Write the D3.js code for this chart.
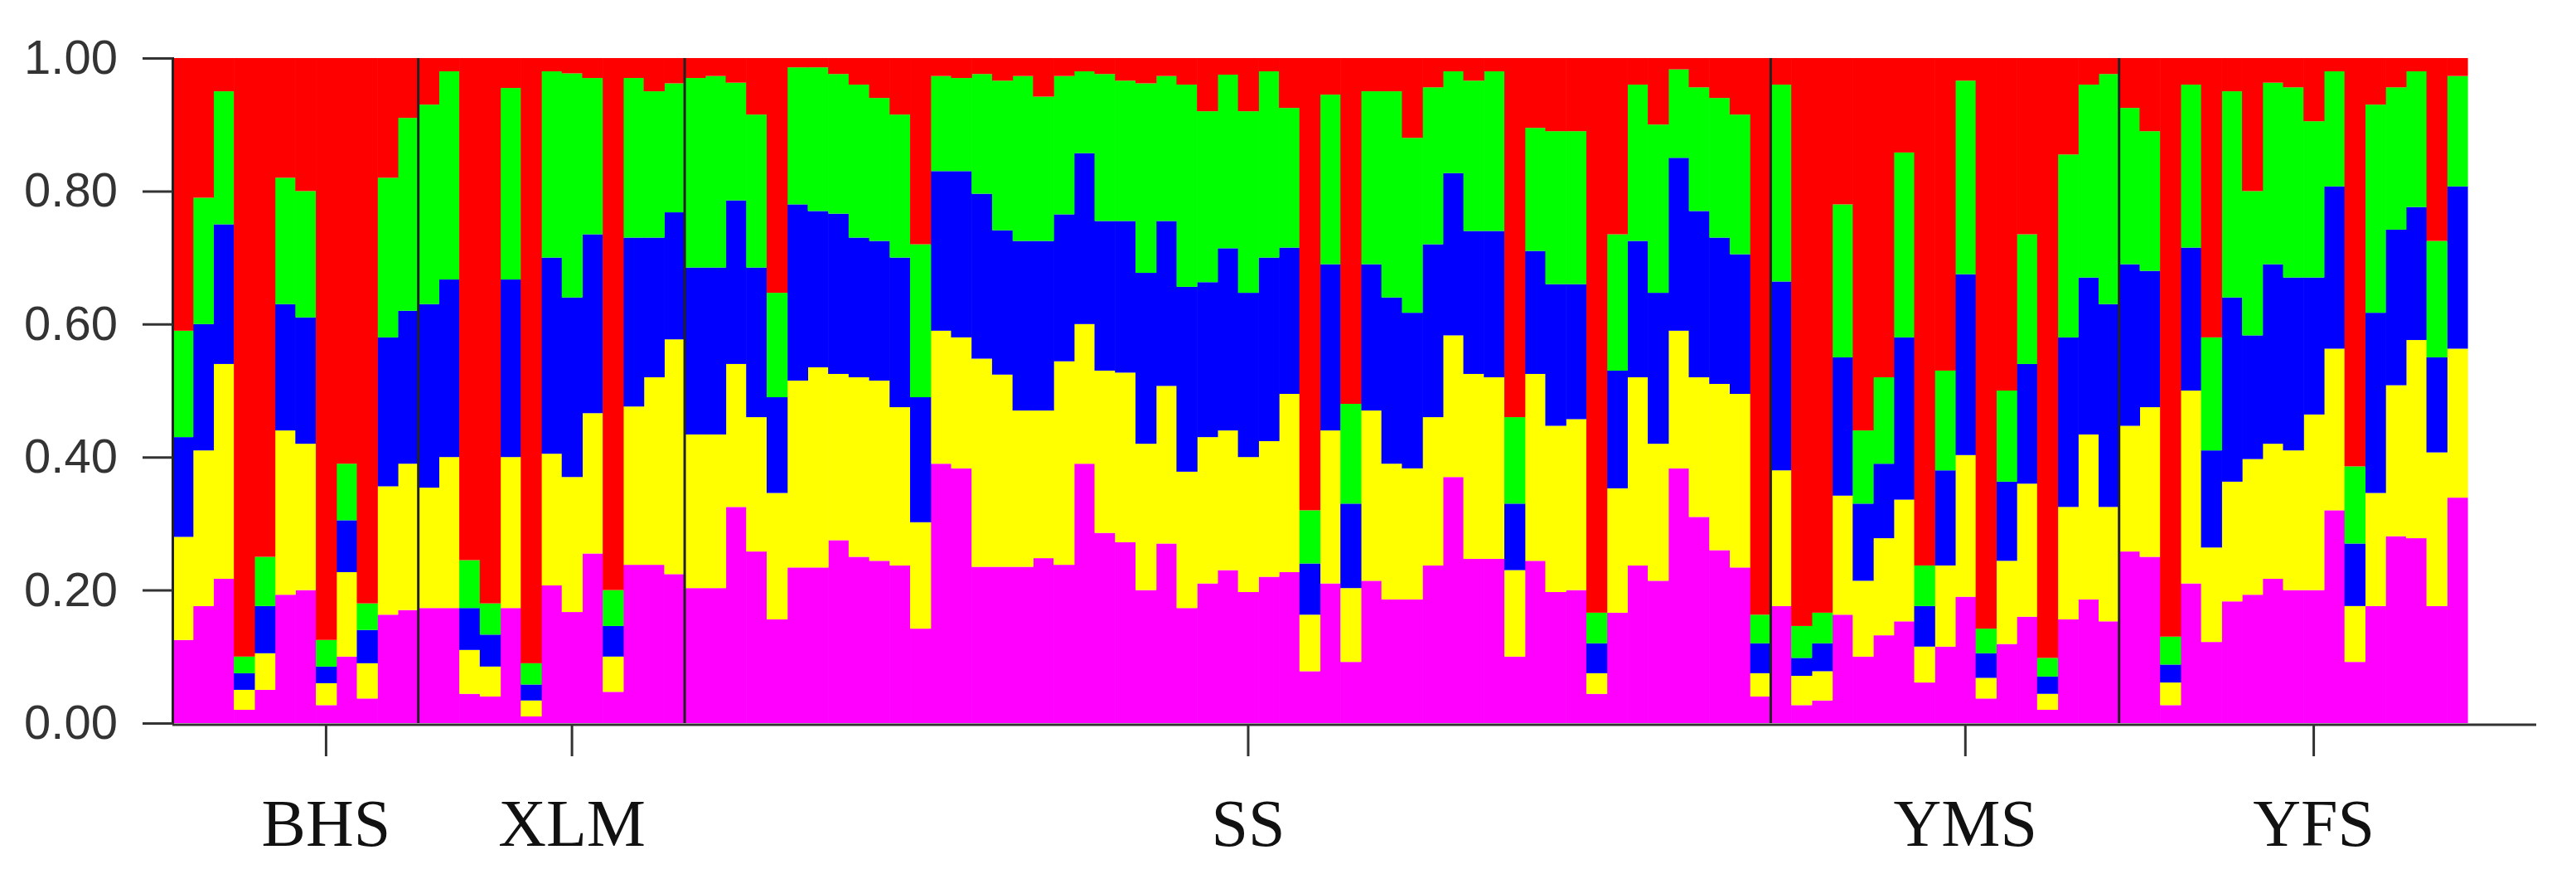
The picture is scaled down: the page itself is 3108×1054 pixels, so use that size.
<!DOCTYPE html>
<html><head><meta charset="utf-8">
<script src="https://cdn.jsdelivr.net/npm/d3@7"></script>
<style>body{margin:0;background:#fff}</style>
</head><body>
<svg id="c" width="3108" height="1054"></svg>
<script>
// cumulative upper edges per individual (stack order: magenta, yellow, blue, green, red)
const pinkTop=[.125,.176,.217,.02,.05,.193,.20,.027,.10,.037,.163,.17,.173,.173,.044,.04,.173,.01,.207,.167,.255,.047,.238,.238,.224,.203,.203,.325,.258,.156,.234,.234,.275,.25,.244,.237,.142,.39,.383,.235,.235,.235,.248,.238,.39,.286,.272,.20,.27,.173,.21,.23,.197,.22,.227,.078,.21,.092,.214,.186,.186,.237,.37,.247,.247,.10,.244,.197,.20,.044,.166,.237,.214,.383,.31,.26,.234,.04,.176,.027,.034,.163,.10,.132,.153,.061,.115,.19,.037,.119,.16,.02,.156,.186,.153,.258,.25,.027,.21,.122,.183,.193,.217,.20,.20,.32,.092,.176,.281,.278,.176,.339];
const yellowTop=[.28,.41,.54,.05,.105,.44,.42,.06,.227,.09,.356,.39,.354,.40,.11,.085,.40,.034,.405,.37,.466,.10,.476,.52,.577,.434,.434,.54,.46,.346,.515,.535,.525,.52,.515,.475,.302,.59,.58,.548,.524,.47,.47,.544,.60,.53,.527,.42,.507,.378,.43,.44,.40,.424,.495,.163,.44,.203,.47,.39,.383,.46,.583,.525,.52,.23,.525,.447,.457,.075,.353,.52,.42,.59,.52,.51,.495,.075,.38,.071,.078,.342,.214,.278,.336,.115,.237,.403,.068,.244,.36,.044,.325,.434,.325,.447,.475,.061,.50,.264,.363,.397,.42,.41,.464,.563,.176,.346,.508,.576,.407,.563];
const blueTop=[.43,.60,.75,.075,.176,.63,.61,.085,.305,.14,.58,.62,.63,.667,.173,.133,.667,.058,.70,.64,.735,.146,.73,.73,.768,.685,.685,.786,.685,.49,.78,.77,.766,.73,.725,.70,.49,.83,.83,.796,.741,.725,.725,.765,.857,.755,.755,.677,.755,.656,.663,.714,.647,.70,.715,.24,.69,.33,.69,.64,.617,.72,.827,.74,.74,.33,.71,.66,.66,.12,.53,.725,.647,.85,.77,.73,.705,.12,.664,.098,.12,.55,.33,.39,.58,.176,.38,.675,.105,.363,.54,.07,.58,.67,.63,.69,.68,.088,.715,.41,.64,.583,.69,.67,.67,.807,.27,.617,.742,.776,.55,.807];
const greenTop=[.59,.79,.95,.10,.25,.82,.80,.125,.39,.18,.82,.91,.93,.98,.245,.18,.955,.09,.98,.977,.97,.20,.97,.95,.962,.97,.973,.963,.915,.647,.986,.986,.976,.96,.94,.915,.72,.973,.97,.976,.966,.973,.942,.973,.98,.976,.966,.962,.973,.96,.92,.975,.92,.98,.925,.32,.945,.48,.95,.95,.88,.956,.98,.966,.98,.46,.895,.89,.89,.166,.735,.96,.90,.983,.956,.94,.915,.163,.96,.146,.166,.78,.44,.52,.858,.237,.53,.966,.142,.50,.735,.098,.855,.96,.976,.925,.89,.13,.96,.58,.95,.80,.963,.956,.905,.98,.386,.93,.956,.98,.725,.973];
const groups=["BHS","XLM","SS","YMS","YFS"];
const groupSizes=[12,13,53,17,17];
const groupTickIndex=[7,19,52,87,104];
const yTicks=[0,0.2,0.4,0.6,0.8,1.0];
const colors=["#ff00ff","#ffff00","#0000ff","#00ff00","#ff0000"];

const svg=d3.select("#c");
const n=pinkTop.length;
const x=d3.scaleBand().domain(d3.range(n)).range([208,2977]).padding(0);
const y=d3.scaleLinear().domain([0,1]).range([872,70]);
const bw=x.bandwidth();

const layers=d3.range(n).map(i=>[0,pinkTop[i],yellowTop[i],blueTop[i],greenTop[i],1]);
const g=svg.append("g");
for(let k=0;k<5;k++){
  g.selectAll(null).data(d3.range(n)).join("rect")
   .attr("x",i=>x(i)).attr("width",bw+0.6)
   .attr("y",i=>y(layers[i][k+1])).attr("height",i=>y(layers[i][k])-y(layers[i][k+1]))
   .attr("fill",colors[k]);
}
// group separators
let cum=0;const bounds=[];
groupSizes.forEach((s,j)=>{cum+=s;if(j<groupSizes.length-1)bounds.push(cum);});
svg.selectAll(null).data(bounds).join("line")
  .attr("x1",b=>x(b)).attr("x2",b=>x(b)).attr("y1",y(1)).attr("y2",y(0))
  .attr("stroke","#222").attr("stroke-width",3);

// y axis
const ya=svg.append("g").attr("transform","translate(208,0)")
  .call(d3.axisLeft(y).tickValues(yTicks).tickFormat(d3.format(".2f")).tickSize(36).tickPadding(30));
ya.select(".domain").attr("stroke","#222").attr("stroke-width",3);
ya.selectAll(".tick line").attr("stroke","#333").attr("stroke-width",3);
ya.selectAll("text").attr("font-family","Liberation Sans, Arial").attr("font-size",58).attr("fill","#333");

// x axis
svg.append("line").attr("x1",208).attr("x2",3060).attr("y1",y(0)+2).attr("y2",y(0)+2)
  .attr("stroke","#333").attr("stroke-width",3);
svg.selectAll(null).data(groupTickIndex).join("line")
  .attr("x1",i=>x(i)+bw/2).attr("x2",i=>x(i)+bw/2).attr("y1",y(0)+2).attr("y2",y(0)+40)
  .attr("stroke","#333").attr("stroke-width",3);
svg.selectAll(null).data(groups).join("text")
  .attr("x",(d,j)=>x(groupTickIndex[j])+bw/2).attr("y",1020)
  .attr("text-anchor","middle").attr("font-family","Liberation Serif, Times New Roman")
  .attr("font-size",80).attr("fill","#111").text(d=>d);
</script>
</body></html>
